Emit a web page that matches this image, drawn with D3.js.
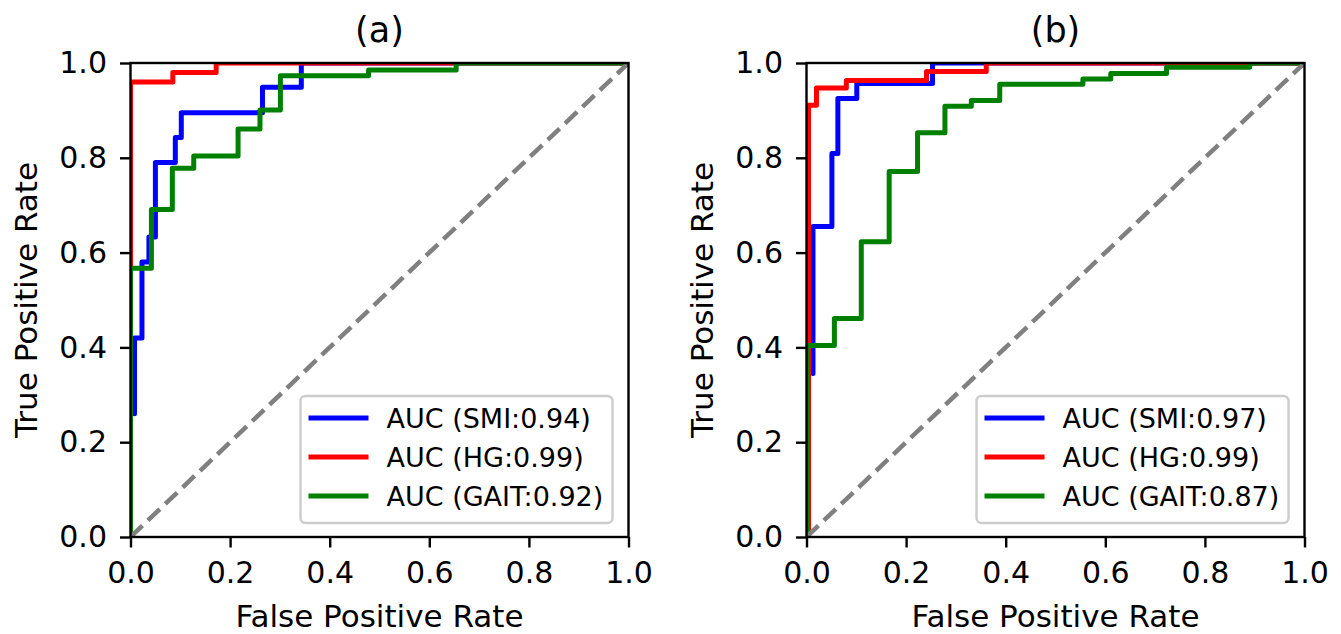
<html>
<head>
<title>roc curves</title>
<script type="text/javascript" src="https://cdn.jsdelivr.net/npm/d3@7"></script>
<style>
	body { margin:0px; padding:0px; background:white; }
	text { font-family: "DejaVu Sans", sans-serif; fill:#000; }
</style>
</head>
<body>
<svg id="chart" width="1341" height="634"></svg>
<script type="text/javascript">

// tick labels
var ticks = [0, 0.2, 0.4, 0.6, 0.8, 1.0];

// panel (a) curves: [fpr, tpr] corner points
var smiA = [[0.008,0.26],[0.008,0.42],[0.023,0.42],[0.023,0.58],[0.037,0.58],[0.037,0.633],[0.05,0.633],[0.05,0.79],[0.09,0.79],[0.09,0.843],[0.102,0.843],[0.102,0.895],[0.265,0.895],[0.265,0.949],[0.343,0.949],[0.343,1],[1,1]];
var hgA = [[0,0],[0,0.96],[0.085,0.96],[0.085,0.98],[0.172,0.98],[0.172,1],[1,1]];
var gaitA = [[0,0],[0,0.567],[0.042,0.567],[0.042,0.691],[0.084,0.691],[0.084,0.778],[0.127,0.778],[0.127,0.804],[0.216,0.804],[0.216,0.861],[0.26,0.861],[0.26,0.901],[0.301,0.901],[0.301,0.973],[0.478,0.973],[0.478,0.985],[0.654,0.985],[0.654,1],[1,1]];

// panel (b) curves
var smiB = [[0.013,0.345],[0.013,0.655],[0.051,0.655],[0.051,0.809],[0.063,0.809],[0.063,0.925],[0.101,0.925],[0.101,0.957],[0.253,0.957],[0.253,1],[1,1]];
var hgB = [[0.004,0],[0.004,0.911],[0.02,0.911],[0.02,0.947],[0.08,0.947],[0.08,0.963],[0.241,0.963],[0.241,0.982],[0.361,0.982],[0.361,1],[1,1]];
var gaitB = [[0,0],[0,0.404],[0.056,0.404],[0.056,0.461],[0.11,0.461],[0.11,0.623],[0.166,0.623],[0.166,0.771],[0.223,0.771],[0.223,0.853],[0.278,0.853],[0.278,0.909],[0.331,0.909],[0.331,0.921],[0.388,0.921],[0.388,0.955],[0.555,0.955],[0.555,0.966],[0.611,0.966],[0.611,0.978],[0.723,0.978],[0.723,0.991],[0.89,0.991],[0.89,1],[1,1]];

var diagonal = [[0,0],[1,1]];

var labelsA = ['AUC (SMI:0.94)', 'AUC (HG:0.99)', 'AUC (GAIT:0.92)'];
var labelsB = ['AUC (SMI:0.97)', 'AUC (HG:0.99)', 'AUC (GAIT:0.87)'];
var colors = ['#0000ff', '#ff0000', '#008000'];

var panels = [
	{ title: '(a)', left: 130.5, curves: [smiA, hgA, gaitA], labels: labelsA },
	{ title: '(b)', left: 806.5, curves: [smiB, hgB, gaitB], labels: labelsB }
];

var pw = 498, ph = 474, plotTop = 63;
var svg = d3.select('#chart');

panels.forEach(function(p, i) {
	var g = svg.append('g').attr('transform', 'translate(' + p.left + ',' + plotTop + ')');
	var x = d3.scaleLinear().domain([0, 1]).range([0, pw]);
	var y = d3.scaleLinear().domain([0, 1]).range([ph, 0]);

	g.append('clipPath').attr('id', 'clip' + i)
		.append('rect').attr('width', pw).attr('height', ph);

	var line = d3.line().x(function(d) {return x(d[0])}).y(function(d) {return y(d[1])});
	var plot = g.append('g').attr('clip-path', 'url(#clip' + i + ')');

	p.curves.forEach(function(c, j) {
		plot.append('path')
			.attr('d', line(c))
			.attr('fill', 'none')
			.attr('stroke', colors[j])
			.attr('stroke-width', 5)
			.attr('stroke-linejoin', 'round')
			.attr('stroke-linecap', 'round');
	});

	plot.append('path')
		.attr('d', line(diagonal))
		.attr('fill', 'none')
		.attr('stroke', '#808080')
		.attr('stroke-width', 4.5)
		.attr('stroke-dasharray', '16.5,7.5');

	// axes
	var xAxis = d3.axisBottom(x).tickValues(ticks).tickFormat(d3.format('.1f')).tickSize(10.5).tickPadding(14.5);
	var yAxis = d3.axisLeft(y).tickValues(ticks).tickFormat(d3.format('.1f')).tickSize(10.5).tickPadding(13);

	var gx = g.append('g').attr('transform', 'translate(0,' + ph + ')').call(xAxis);
	var gy = g.append('g').call(yAxis);
	[gx, gy].forEach(function(a) {
		a.select('.domain').remove();
		a.selectAll('line').attr('stroke', '#000').attr('stroke-width', 2.4);
		a.selectAll('text').style('font-size', '30px').style('font-family', '"DejaVu Sans", sans-serif');
	});

	g.append('rect').attr('width', pw).attr('height', ph)
		.attr('fill', 'none').attr('stroke', '#000').attr('stroke-width', 2.4);

	// legend
	var lg = g.append('g').attr('transform', 'translate(' + (pw - 328) + ',' + (ph - 141) + ')');
	lg.append('rect').attr('width', 312).attr('height', 127).attr('rx', 5)
		.attr('fill', 'white').attr('fill-opacity', 0.8)
		.attr('stroke', '#cccccc').attr('stroke-width', 2.4);
	p.labels.forEach(function(l, j) {
		var ly = 22 + j * 39;
		lg.append('line').attr('x1', 8).attr('x2', 68).attr('y1', ly).attr('y2', ly)
			.attr('stroke', colors[j]).attr('stroke-width', 5);
		lg.append('text').attr('x', 86).attr('y', ly).attr('dy', '0.36em')
			.style('font-size', '27px').text(l);
	});

	// titles and labels
	g.append('text').attr('x', pw / 2).attr('y', -21).attr('text-anchor', 'middle')
		.style('font-size', '35px').text(p.title);
	g.append('text').attr('x', pw / 2).attr('y', ph + 90).attr('text-anchor', 'middle')
		.style('font-size', '31px').text('False Positive Rate');
	g.append('text').attr('transform', 'translate(-94,' + (ph / 2) + ') rotate(-90)')
		.attr('text-anchor', 'middle')
		.style('font-size', '31px').text('True Positive Rate');
});

</script>
</body>
</html>
